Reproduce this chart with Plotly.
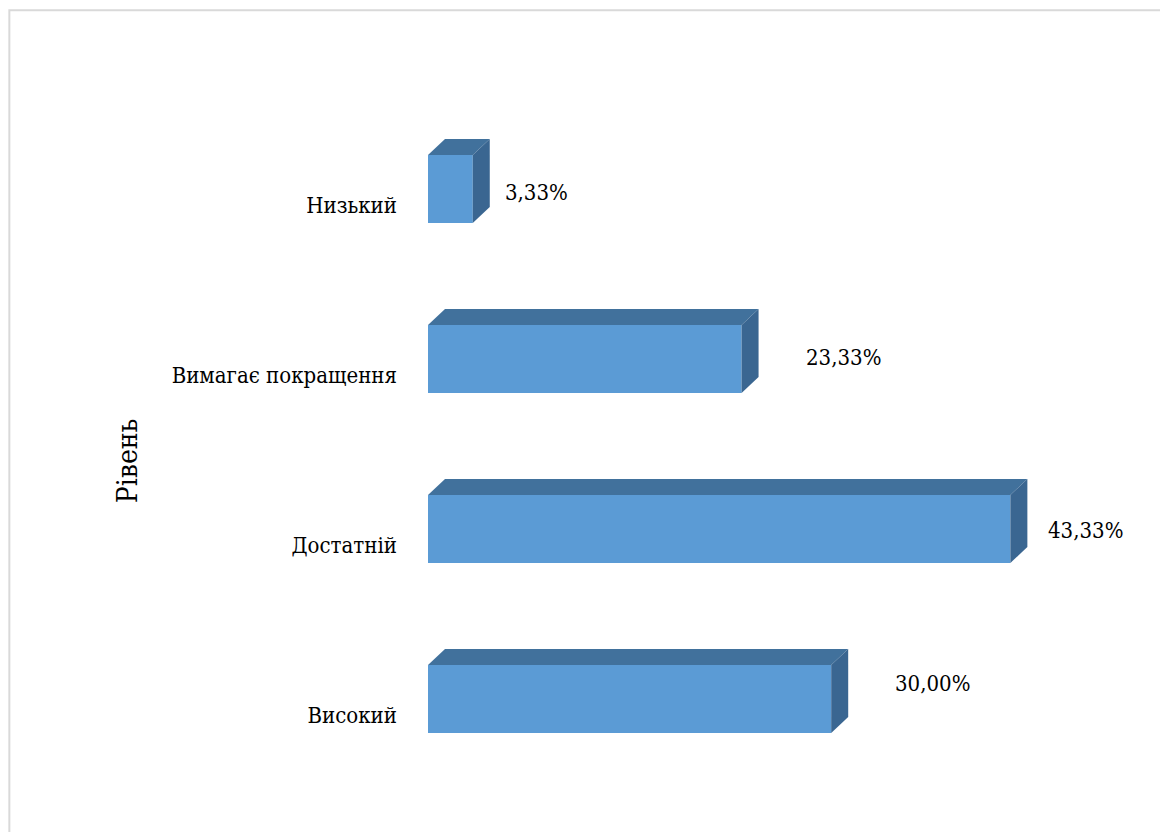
import plotly.graph_objects as go

# дані
levels = ["Високий", "Достатній", "Вимагає покращення", "Низький"]
shares = [30.00, 43.33, 23.33, 3.33]

# зсуви підписів значень (px)
label_dx = [62, 36, 62, 30]
label_dy = [-16, 1, -2, 3]

FRONT = "#5b9bd5"
TOP = "#41719c"
SIDE = "#3a6691"
FONT = "DejaVu Serif Condensed"

x_max = 50
bar_w = 0.4
depth_x = 17 / 13.43      # глибина 3D по осі x (одиниці даних)
depth_y = 16 / 170        # глибина 3D по осі y (одиниці категорій)

ypos = list(range(len(levels)))
tick_pos = [i - depth_y for i in ypos]   # підписи категорій трохи нижче (перспектива)

fig = go.Figure()
fig.add_trace(go.Bar(
    y=ypos, x=shares, orientation="h", width=bar_w,
    marker=dict(color=FRONT, line=dict(width=0)),
    hoverinfo="skip", showlegend=False,
))

shapes = []
for i, v in zip(ypos, shares):
    y0, y1 = i - bar_w / 2, i + bar_w / 2
    top = f"M 0,{y1} L {v},{y1} L {v + depth_x},{y1 + depth_y} L {depth_x},{y1 + depth_y} Z"
    side = f"M {v},{y0} L {v + depth_x},{y0 + depth_y} L {v + depth_x},{y1 + depth_y} L {v},{y1} Z"
    shapes.append(dict(type="path", path=top, xref="x", yref="y",
                       fillcolor=TOP, line=dict(width=0)))
    shapes.append(dict(type="path", path=side, xref="x", yref="y",
                       fillcolor=SIDE, line=dict(width=0)))

# рамка діаграми
shapes.append(dict(type="rect", xref="paper", yref="paper",
                   x0=-0.623, y0=-0.2, x1=1.2, y1=1.138,
                   line=dict(color="#d9d9d9", width=2), layer="below"))

annotations = []
for i, v, dx, dy in zip(ypos, shares, label_dx, label_dy):
    annotations.append(dict(
        x=v, y=i, xref="x", yref="y",
        text=f"{v:.2f}".replace(".", ",") + "%",
        showarrow=False, xanchor="left", yanchor="middle",
        xshift=dx, yshift=-dy,
        font=dict(family=FONT, size=22, color="#000000"),
    ))

annotations.append(dict(
    x=-0.448, y=0.476, xref="paper", yref="paper",
    text="Рівень", textangle=-90, showarrow=False,
    xanchor="center", yanchor="middle",
    font=dict(family=FONT, size=28, color="#000000"),
))

fig.update_layout(
    width=1160, height=824,
    margin=dict(l=420, r=68, t=96, b=48),
    paper_bgcolor="white", plot_bgcolor="white",
    shapes=shapes, annotations=annotations,
    xaxis=dict(range=[0, x_max], visible=False, fixedrange=True),
    yaxis=dict(
        range=[-0.5, len(levels) - 0.5],
        tickmode="array", tickvals=tick_pos, ticktext=levels,
        showgrid=False, zeroline=False, showline=False,
        ticks="", ticklabelstandoff=30,
        tickfont=dict(family=FONT, size=22, color="#000000"),
        fixedrange=True,
    ),
)

fig.write_html("out.html")
